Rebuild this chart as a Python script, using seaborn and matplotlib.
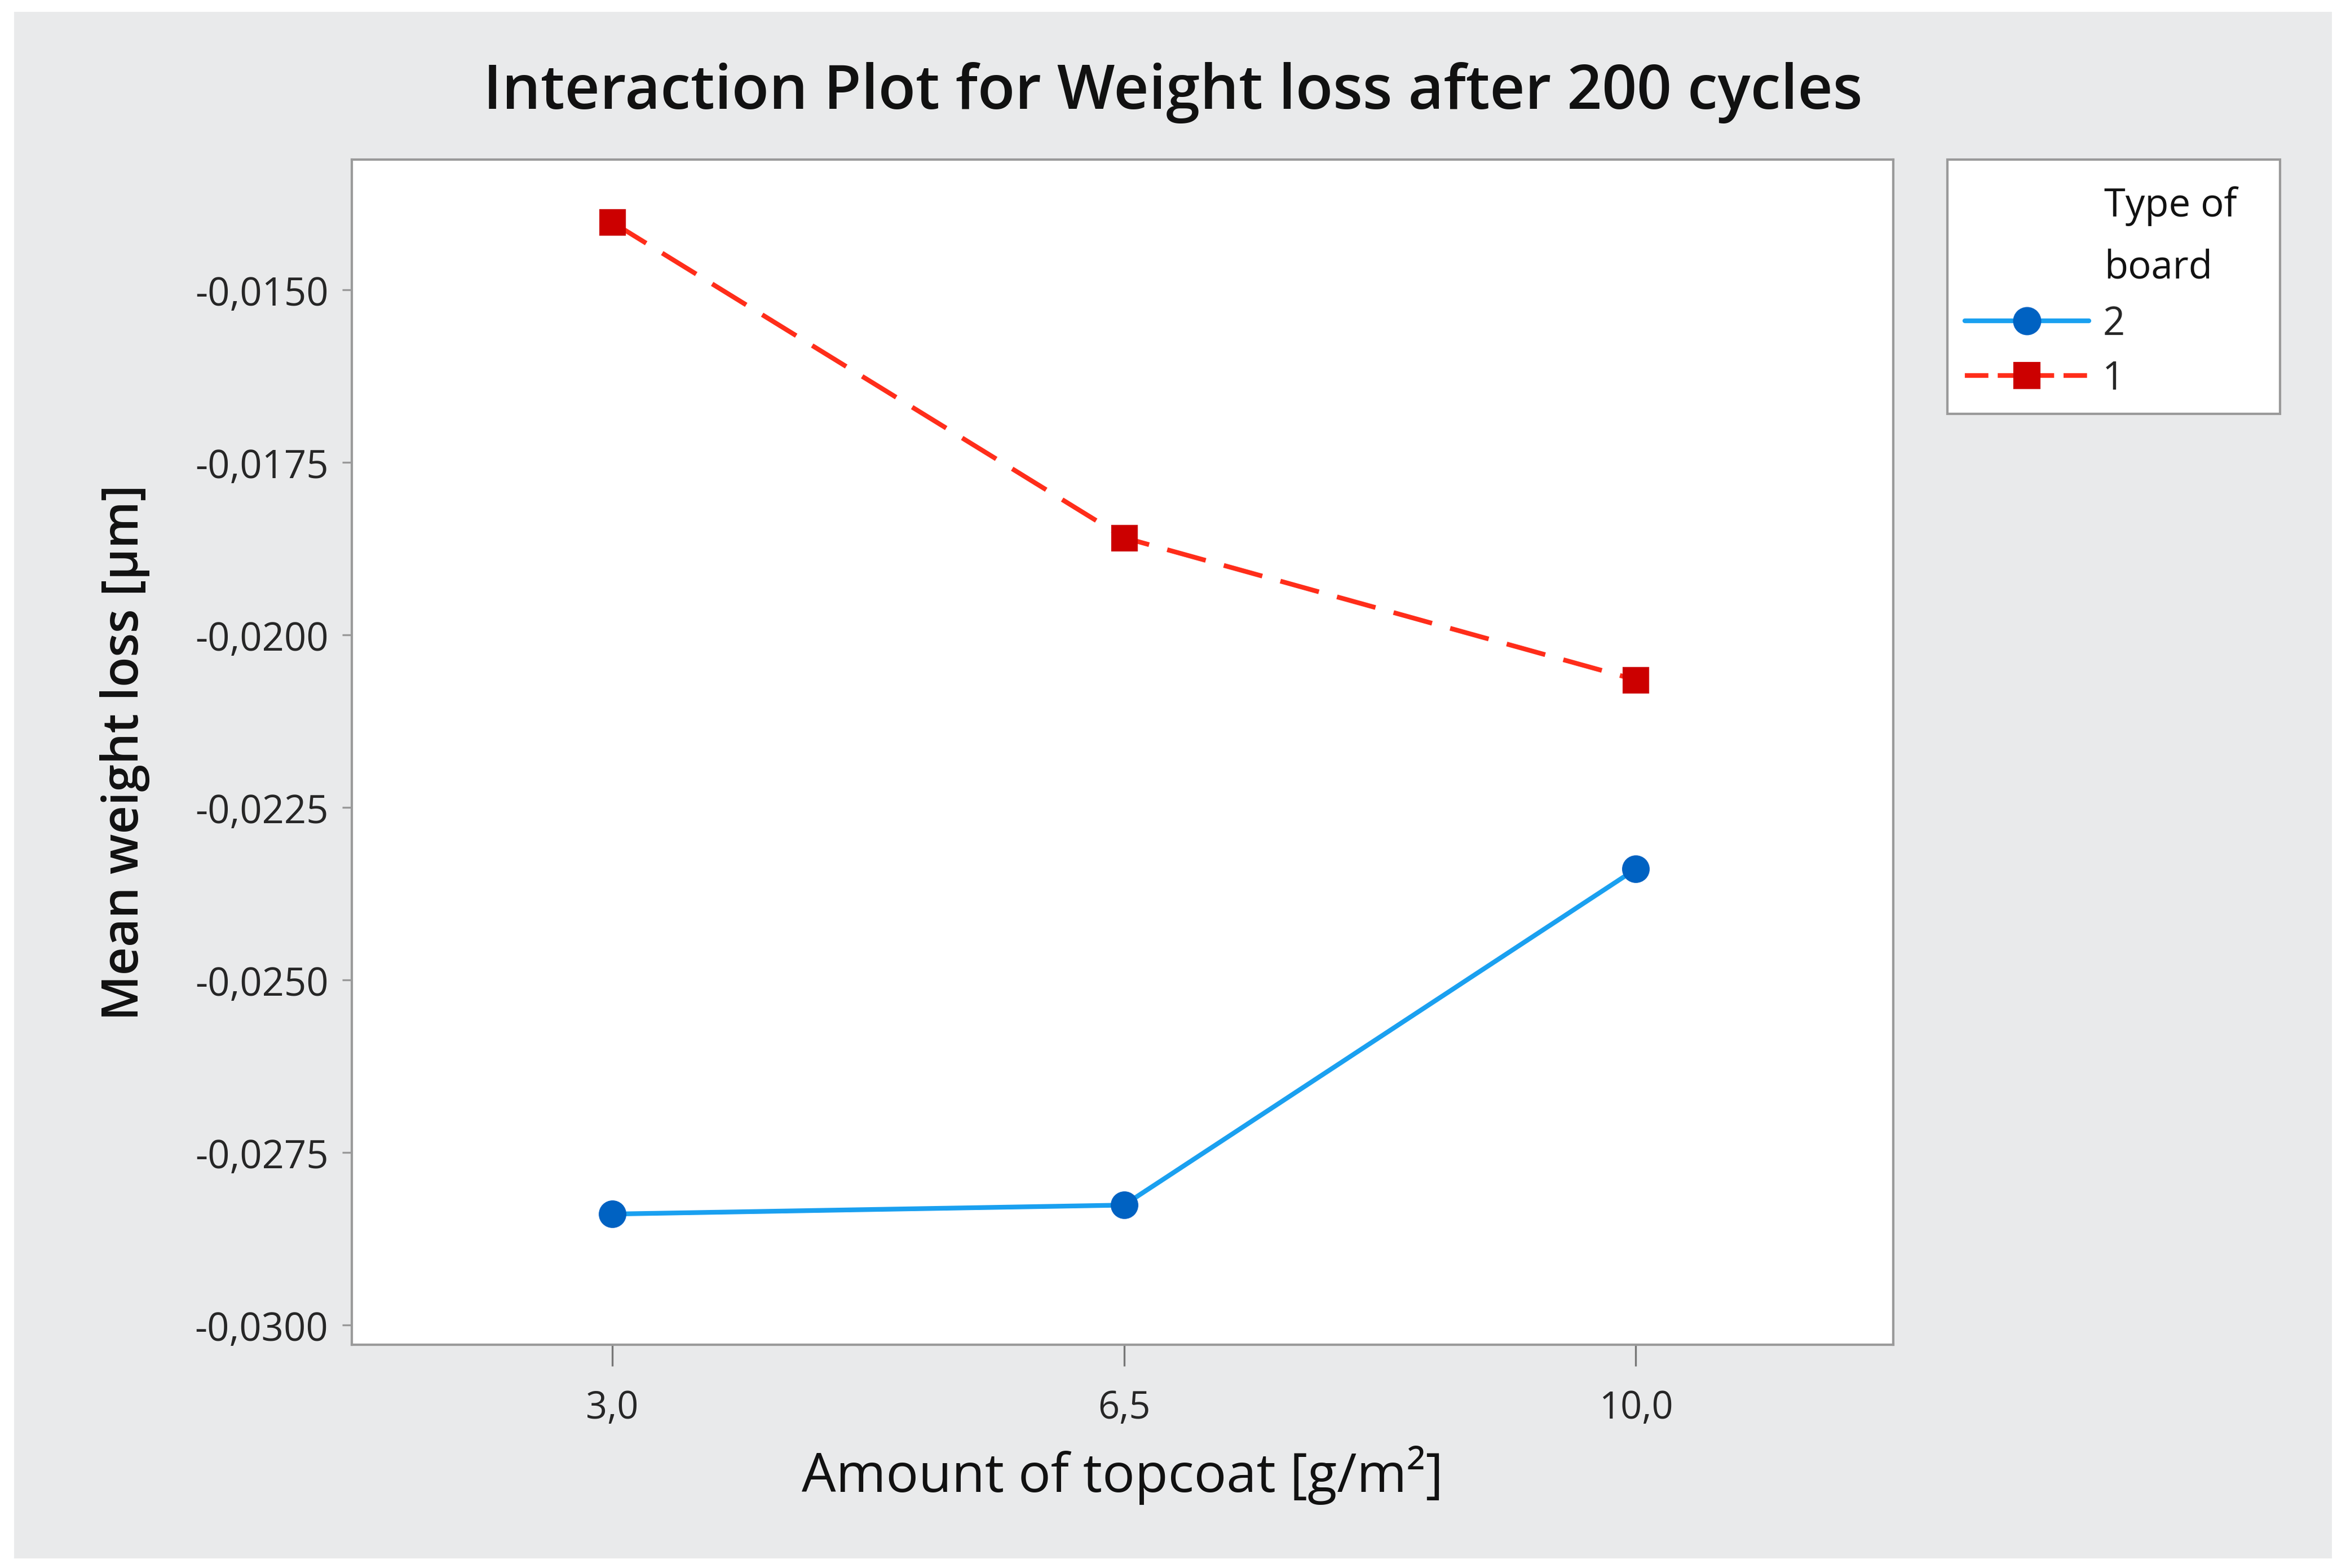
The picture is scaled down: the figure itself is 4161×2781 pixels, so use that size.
import numpy as np
import pandas as pd
import seaborn as sns
import matplotlib.pyplot as plt
from matplotlib.lines import Line2D
from matplotlib.patches import Rectangle
from matplotlib.ticker import FuncFormatter

sns.set_theme(style='white')
plt.rcParams['font.family'] = ['Open Sans', 'DejaVu Sans']

# values
topcoat = [3.0, 6.5, 10.0]
board_2 = [-0.02839, -0.02826, -0.02339]
board_1 = [-0.01402, -0.01859, -0.02065]
y_ticks = [-0.0150, -0.0175, -0.0200, -0.0225, -0.0250, -0.0275, -0.0300]

df = pd.DataFrame({
    'topcoat': topcoat * 2,
    'loss': board_2 + board_1,
    'board': ['2'] * 3 + ['1'] * 3,
})

fig = plt.figure(figsize=(13.87, 9.273), dpi=300, facecolor='white')
fig.patches.append(Rectangle((0.006, 0.006), 0.988, 0.986, transform=fig.transFigure,
                             facecolor='#e9eaeb', edgecolor='none', zorder=-10))

ax = fig.add_axes([0.150, 0.1425, 0.657, 0.7555])
ax.set_facecolor('white')

# board 2: solid light blue line, dark blue circles
sns.lineplot(data=df[df.board == '2'], x='topcoat', y='loss', ax=ax, color='#1aa0f0',
             lw=2.0, marker='o', markersize=11, markerfacecolor='#0062c2',
             markeredgecolor='#0062c2', legend=False)
# board 1: dashed red line, dark red squares
sns.lineplot(data=df[df.board == '1'], x='topcoat', y='loss', ax=ax, color='#ff2d1a',
             lw=2.0, marker='s', markersize=10.5, markerfacecolor='#cc0000',
             markeredgecolor='#cc0000', dashes=False, legend=False)
ax.lines[-1].set_dashes((8.5, 4))

ax.set_xlim(1.22, 11.76)
ax.set_ylim(-0.03028, -0.01311)
ax.set_xticks(topcoat)
ax.set_xticklabels([f'{v:.1f}'.replace('.', ',') for v in topcoat])
ax.set_yticks(y_ticks)
ax.yaxis.set_major_formatter(FuncFormatter(lambda v, p: f'{v:.4f}'.replace('.', ',')))

for s in ax.spines.values():
    s.set_color('#9a9a9a')
    s.set_linewidth(1.0)
ax.tick_params(axis='x', direction='out', length=9, width=0.8, color='#777777',
               pad=10, labelsize=16, bottom=True)
ax.tick_params(axis='y', direction='out', length=4, width=0.8, color='#999999',
               pad=6, labelsize=16.5, left=True)

ax.set_xlabel('Amount of topcoat [g/m²]', fontsize=23, color='#111111')
ax.xaxis.set_label_coords(0.5, -0.085)
ax.set_ylabel('Mean weight loss [µm]', fontsize=21, fontweight='semibold',
              color='#111111')
ax.yaxis.set_label_coords(-0.131, 0.5)

fig.text(0.5, 0.9407, 'Interaction Plot for Weight loss after 200 cycles',
         ha='center', va='center', fontsize=26, fontweight='semibold', color='#111111')

# legend box
fig.patches.append(Rectangle((0.830, 0.736), 0.142, 0.162, transform=fig.transFigure,
                             facecolor='white', edgecolor='#9a9a9a', lw=1.0))
fig.text(0.897, 0.849, 'Type of\nboard', ha='left', va='center', fontsize=16.5,
         linespacing=1.75, color='#111111')
handles = [
    Line2D([], [], color='#1aa0f0', lw=2.0, marker='o', markersize=11,
           markerfacecolor='#0062c2', markeredgecolor='#0062c2'),
    Line2D([], [], color='#ff2d1a', lw=2.0, ls=(0, (5, 2)), marker='s', markersize=10.5,
           markerfacecolor='#cc0000', markeredgecolor='#cc0000'),
]
fig.legend(handles, ['2', '1'], loc='upper left', bbox_to_anchor=(0.826, 0.823),
           frameon=False, fontsize=16.5, handlelength=3.2, handletextpad=0.35,
           labelspacing=0.4, borderpad=0.2)

fig.savefig('out.png', dpi=300, facecolor=fig.get_facecolor())
